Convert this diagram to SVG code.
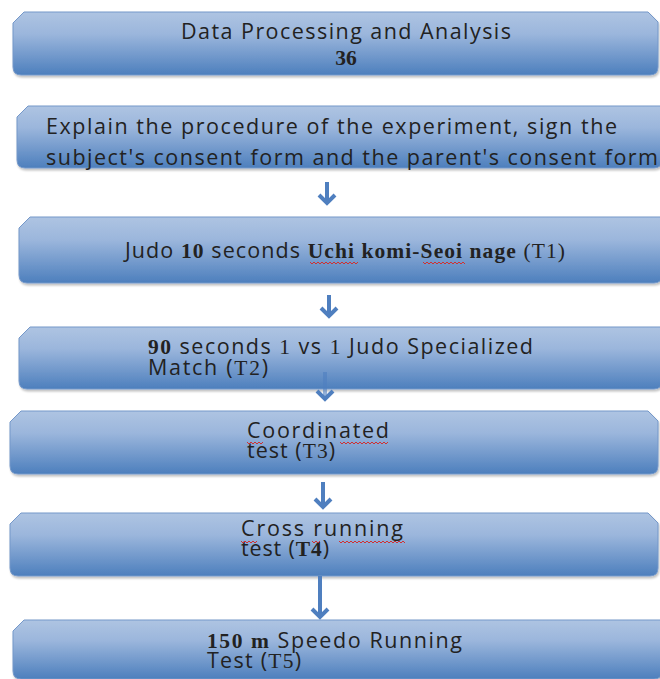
<svg xmlns="http://www.w3.org/2000/svg" width="660" height="679" viewBox="0 0 660 679">
<defs>
<linearGradient id="g" x1="0" y1="0" x2="0" y2="1">
<stop offset="0" stop-color="#aec4e2"/>
<stop offset="0.35" stop-color="#9bb6dc"/>
<stop offset="1" stop-color="#4d7fbd"/>
</linearGradient>
<filter id="sh" x="-5%" y="-10%" width="110%" height="130%">
<feGaussianBlur in="SourceAlpha" stdDeviation="1.2"/>
<feOffset dx="1" dy="2" result="b"/>
<feComponentTransfer><feFuncA type="linear" slope="0.25"/></feComponentTransfer>
<feMerge><feMergeNode/><feMergeNode in="SourceGraphic"/></feMerge>
</filter>
</defs>
<style>
.box{fill:url(#g);stroke:#7598c9;stroke-width:1;filter:url(#sh)}
.t{font-family:"Open Sans","Noto Sans","DejaVu Sans",sans-serif;font-size:21.5px;fill:#222}
.s{font-family:"Liberation Serif","Times New Roman",serif}
.b{font-weight:bold}
.arr{stroke:#4f7fbf;stroke-width:4;fill:none;stroke-linecap:butt}
.head{stroke:#4f7fbf;stroke-width:4;fill:none;stroke-linejoin:miter}
.sq{stroke:#d03030;stroke-width:1;fill:none}
</style>
<g id="n1">
<path class="box" d="M13,23 L24,12 L648,12 L658,22 L658,67 Q658,75 650,75 L21,75 Q13,75 13,67 Z"/>
<text class="t" x="181" y="39" textLength="330" lengthAdjust="spacing">Data Processing and Analysis</text>
<text class="t s b" x="346" y="65" text-anchor="middle" font-size="14">36</text>
</g>
<g id="n2">
<path class="box" d="M17,117 L28,106 L662,106 L662,160 Q662,168 654,168 L25,168 Q17,168 17,160 Z"/>
<text class="t" x="46" y="134" textLength="571" lengthAdjust="spacing">Explain the procedure of the experiment, sign the</text>
<text class="t" x="46" y="165" textLength="612" lengthAdjust="spacing">subject's consent form and the parent's consent form</text>
</g>
<g id="n3">
<path class="box" d="M19,228 L30,217 L662,217 L662,275 Q662,283 654,283 L27,283 Q19,283 19,275 Z"/>
<text class="t" x="125" y="258" textLength="440" lengthAdjust="spacing">Judo <tspan class="s b">10</tspan> seconds <tspan class="s b">Uchi komi-Seoi nage</tspan> <tspan class="s">(T1)</tspan></text>
<path class="sq" d="M310,262 l2,2 l2,-2 l2,2 l2,-2 l2,2 l2,-2 l2,2 l2,-2 l2,2 l2,-2 l2,2 l2,-2 l2,2 l2,-2 l2,2 l2,-2 l2,2 l2,-2 l2,2 l2,-2 l2,2 l2,-2 l2,2 l2,-2"/>
<path class="sq" d="M423,262 l2,2 l2,-2 l2,2 l2,-2 l2,2 l2,-2 l2,2 l2,-2 l2,2 l2,-2 l2,2 l2,-2 l2,2 l2,-2 l2,2 l2,-2 l2,2 l2,-2 l2,2 l2,-2 l2,2"/>
</g>
<g id="n4">
<path class="box" d="M19,338 L30,327 L662,327 L662,381 Q662,389 654,389 L27,389 Q19,389 19,381 Z"/>
<text class="t" x="148" y="354" textLength="385" lengthAdjust="spacing"><tspan class="s b">90</tspan> seconds <tspan class="s">1</tspan> vs <tspan class="s">1</tspan> Judo Specialized</text>
<text class="t" x="148" y="375" textLength="120" lengthAdjust="spacing">Match (<tspan class="s">T2</tspan>)</text>
</g>
<g id="n5">
<path class="box" d="M10,422 L21,411 L648,411 L658,421 L658,466 Q658,474 650,474 L18,474 Q10,474 10,466 Z"/>
<text class="t" x="247" y="438" textLength="142" lengthAdjust="spacing">Coordinated</text>
<text class="t" x="247" y="458" textLength="88" lengthAdjust="spacing">test (<tspan class="s">T3</tspan>)</text>
<path class="sq" d="M247,442 l2,2 l2,-2 l2,2 l2,-2 l2,2 l2,-2 l2,2 l2,-2"/>
<path class="sq" d="M340,442 l2,2 l2,-2 l2,2 l2,-2 l2,2 l2,-2 l2,2 l2,-2 l2,2 l2,-2 l2,2 l2,-2 l2,2 l2,-2 l2,2 l2,-2 l2,2 l2,-2 l2,2 l2,-2 l2,2 l2,-2 l2,2 l2,-2"/>
</g>
<g id="n6">
<path class="box" d="M10,524 L21,513 L648,513 L658,523 L658,568 Q658,576 650,576 L18,576 Q10,576 10,568 Z"/>
<text class="t" x="241" y="536" textLength="162" lengthAdjust="spacing">Cross running</text>
<text class="t" x="241" y="556" textLength="88" lengthAdjust="spacing">test (<tspan class="s b">T4</tspan>)</text>
<path class="sq" d="M241,541 l2,2 l2,-2 l2,2 l2,-2 l2,2 l2,-2 l2,2 l2,-2"/>
<path class="sq" d="M312,541 l2,2 l2,-2 l2,2 l2,-2"/>
<path class="sq" d="M339,541 l2,2 l2,-2 l2,2 l2,-2 l2,2 l2,-2 l2,2 l2,-2 l2,2 l2,-2 l2,2 l2,-2 l2,2 l2,-2 l2,2 l2,-2 l2,2 l2,-2 l2,2 l2,-2 l2,2 l2,-2 l2,2 l2,-2 l2,2 l2,-2 l2,2 l2,-2 l2,2 l2,-2 l2,2 l2,-2 l2,2"/>
</g>
<g id="n7">
<path class="box" d="M13,631 L24,620 L662,620 L662,671 Q662,679 654,679 L21,679 Q13,679 13,671 Z"/>
<text class="t" x="207" y="648" textLength="255" lengthAdjust="spacing"><tspan class="s b">150 m</tspan> Speedo Running</text>
<text class="t" x="207" y="668" textLength="94" lengthAdjust="spacing">Test (<tspan class="s">T5</tspan>)</text>
</g>
<g id="connectors">
<line class="arr" x1="327" y1="182" x2="327" y2="203"/>
<polyline class="head" points="319,195 327,203 335,195"/>
<line class="arr" x1="329" y1="295" x2="329" y2="316"/>
<polyline class="head" points="321,308 329,316 337,308"/>
<line class="arr" x1="325" y1="372" x2="325" y2="399" stroke-opacity="0.6"/>
<polyline class="head" points="317,391 325,399 333,391"/>
<line class="arr" x1="323" y1="482" x2="323" y2="507"/>
<polyline class="head" points="315,499 323,507 331,499"/>
<line class="arr" x1="320" y1="576" x2="320" y2="617" stroke-width="3"/>
<polyline class="head" points="312,609 320,617 328,609" stroke-width="3"/>
</g>
</svg>
